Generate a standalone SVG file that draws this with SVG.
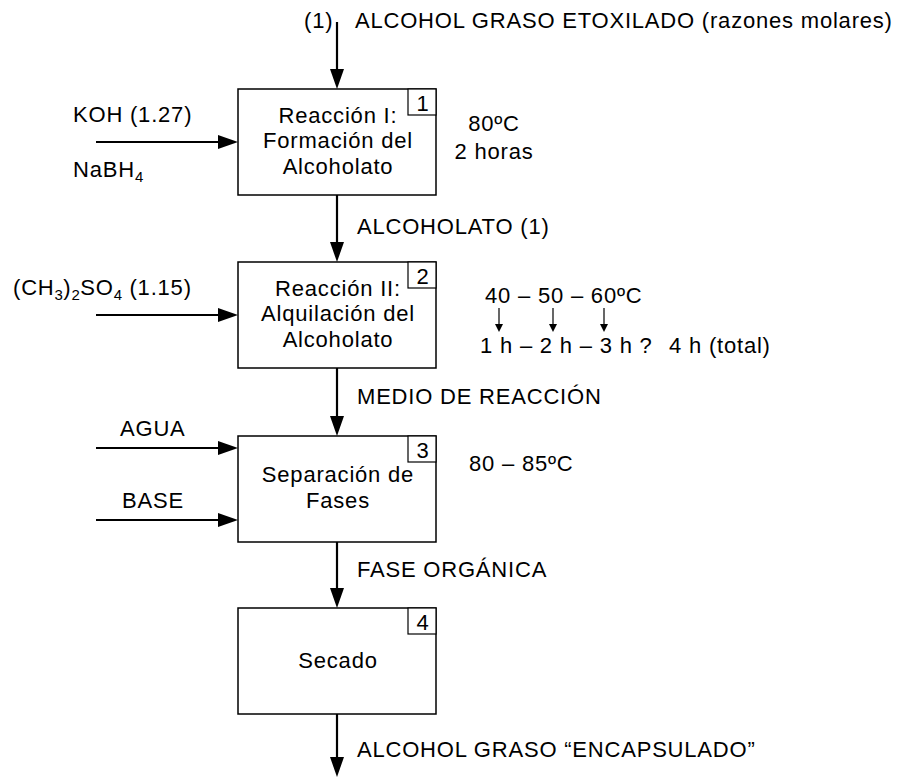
<svg xmlns="http://www.w3.org/2000/svg" width="905" height="778" viewBox="0 0 905 778">
<style>
text{font-family:"Liberation Sans",Arial,sans-serif;font-size:22px;letter-spacing:0.8px;fill:#000}
.c{text-anchor:middle}
.sub{font-size:15px;letter-spacing:0.5px}
.box{fill:#fff;stroke:#000;stroke-width:1.5}
.num{fill:#fff;stroke:#000;stroke-width:1.2}
.flow{fill:none;stroke:#000;stroke-width:2.2}
.thin{fill:none;stroke:#000;stroke-width:1.2}
</style>
<defs>
<marker id="ah" markerUnits="userSpaceOnUse" markerWidth="22" markerHeight="16" viewBox="0 0 22 16" refX="10" refY="7" orient="auto">
<path d="M0,0 L20,7 L0,14 Z" fill="#000"/>
</marker>
<marker id="ahs" markerUnits="userSpaceOnUse" markerWidth="10" markerHeight="10" viewBox="0 0 10 10" refX="3" refY="4" orient="auto">
<path d="M0,0 L8,4 L0,8 Z" fill="#000"/>
</marker>
</defs>

<g id="connectors">
<path class="flow" d="M337,22 V79" marker-end="url(#ah)"/>
<path class="flow" d="M337,195 V252" marker-end="url(#ah)"/>
<path class="flow" d="M337,368 V426" marker-end="url(#ah)"/>
<path class="flow" d="M337,542 V598" marker-end="url(#ah)"/>
<path class="flow" d="M337,714 V767" marker-end="url(#ah)"/>
<path class="flow" d="M96,142 H228" marker-end="url(#ah)"/>
<path class="flow" d="M96,315 H228" marker-end="url(#ah)"/>
<path class="flow" d="M96,448 H228" marker-end="url(#ah)"/>
<path class="flow" d="M96,520 H228" marker-end="url(#ah)"/>
<path class="thin" d="M499,308 V327" marker-end="url(#ahs)"/>
<path class="thin" d="M553,308 V327" marker-end="url(#ahs)"/>
<path class="thin" d="M604,308 V327" marker-end="url(#ahs)"/>
</g>

<g id="labels">
<text x="304" y="28">(1)</text>
<text x="355" y="28">ALCOHOL GRASO ETOXILADO (razones molares)</text>
<text x="73" y="122">KOH (1.27)</text>
<text x="73" y="177">NaBH<tspan class="sub" dy="5">4</tspan></text>
<text x="494" y="131" class="c">80ºC</text>
<text x="494" y="159" class="c">2 horas</text>
<text x="357" y="234">ALCOHOLATO (1)</text>
<text x="13" y="295">(CH<tspan class="sub" dy="5">3</tspan><tspan dy="-5">)</tspan><tspan class="sub" dy="5">2</tspan><tspan dy="-5">SO</tspan><tspan class="sub" dy="5">4</tspan><tspan dy="-5"> (1.15)</tspan></text>
<text x="485" y="303">40 – 50 – 60ºC</text>
<text x="480" y="353">1 h – 2 h – 3 h ?</text>
<text x="669" y="353">4 h (total)</text>
<text x="357" y="404">MEDIO DE REACCIÓN</text>
<text x="120" y="436">AGUA</text>
<text x="122" y="508">BASE</text>
<text x="469" y="471">80 – 85ºC</text>
<text x="357" y="577">FASE ORGÁNICA</text>
<text x="357" y="757">ALCOHOL GRASO “ENCAPSULADO”</text>
</g>

<g id="node1">
<rect class="box" x="238" y="89" width="198" height="106"/>
<rect class="num" x="408" y="89" width="28" height="26"/>
<text x="423" y="111" class="c">1</text>
<text x="338" y="123" class="c">Reacción I:</text>
<text x="338" y="148" class="c">Formación del</text>
<text x="338" y="174" class="c">Alcoholato</text>
</g>

<g id="node2">
<rect class="box" x="238" y="262" width="198" height="106"/>
<rect class="num" x="408" y="262" width="28" height="26"/>
<text x="423" y="284" class="c">2</text>
<text x="338" y="296" class="c">Reacción II:</text>
<text x="338" y="321" class="c">Alquilación del</text>
<text x="338" y="347" class="c">Alcoholato</text>
</g>

<g id="node3">
<rect class="box" x="238" y="436" width="198" height="106"/>
<rect class="num" x="408" y="436" width="28" height="26"/>
<text x="423" y="458" class="c">3</text>
<text x="338" y="482" class="c">Separación de</text>
<text x="338" y="508" class="c">Fases</text>
</g>

<g id="node4">
<rect class="box" x="238" y="608" width="198" height="106"/>
<rect class="num" x="408" y="608" width="28" height="26"/>
<text x="423" y="630" class="c">4</text>
<text x="338" y="668" class="c">Secado</text>
</g>
</svg>
